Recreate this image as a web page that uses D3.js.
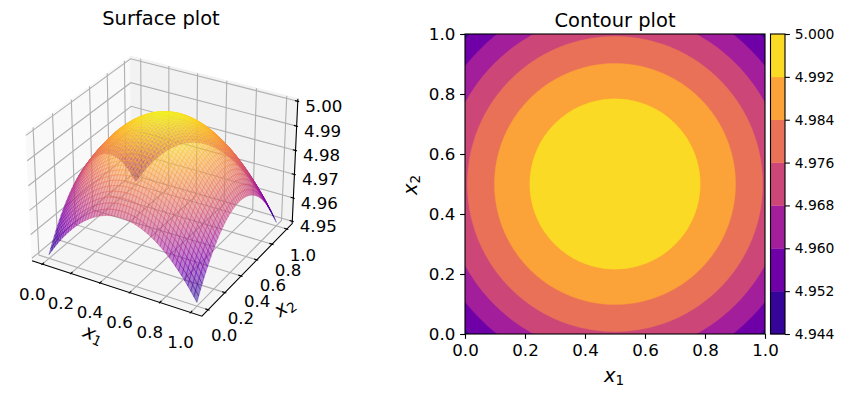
<!DOCTYPE html>
<html><head><meta charset="utf-8">
<script src="https://cdn.jsdelivr.net/npm/d3@7"></script>
<style>html,body{margin:0;background:#fff}svg{display:block}text{font-family:"DejaVu Sans";fill:#000}</style>
</head><body><div id="c"></div>
<script>
// Height lost from the crown along one axis, estimated from the contour radii and corner tips in the reference (51 samples, 0..1).
const crownDrop = [.02475,.02281,.02095,.01917,.01746,.01584,.01430,.01283,.01144,.01014,.00891,.00776,.00669,.00570,.00479,.00396,.00321,.00253,.00194,.00143,.00099,.00063,.00036,.00016,.00004,0,
 .00004,.00016,.00036,.00063,.00099,.00143,.00194,.00253,.00321,.00396,.00479,.00570,.00669,.00776,.00891,.01014,.01144,.01283,.01430,.01584,.01746,.01917,.02095,.02281,.02475];
const crown = 5.0;
const contourLevels = [4.944,4.952,4.960,4.968,4.976,4.984,4.992,5.000];
const unitTicks = [0,.2,.4,.6,.8,1];
const zTicks = [4.95,4.96,4.97,4.98,4.99,5.00];
const xLim = [-.05,1.05], yLim = [-.05,1.05], zLim = [4.95,5.0];

const W=843,H=396;
const svg=d3.select("#c").append("svg").attr("width",W).attr("height",H);
const n=crownDrop.length;
const grid=crownDrop.map(dy=>crownDrop.map(dx=>crown-dx-dy)); // grid[row y][col x]
const sample=i=>i/(n-1);
const zValues=grid.flat();
const zExtent=d3.extent(zValues);

/* ---------- 3D surface ---------- */
const el=30*Math.PI/180, az=-60*Math.PI/180, dist=10;
const boxK=1.8294640721620434/Math.hypot(4,4,3);
const box=[4*boxK,4*boxK,3*boxK];
const Rc=box.map(b=>b/2);
const wAxis=[Math.cos(el)*Math.cos(az),Math.cos(el)*Math.sin(az),Math.sin(el)];
const eye=Rc.map((r,i)=>r+dist*wAxis[i]);
const uAxis=[-wAxis[1],wAxis[0],0].map(v=>v/Math.hypot(wAxis[0],wAxis[1]));
const vAxis=[wAxis[1]*uAxis[2]-wAxis[2]*uAxis[1],wAxis[2]*uAxis[0]-wAxis[0]*uAxis[2],wAxis[0]*uAxis[1]-wAxis[1]*uAxis[0]];
const nx=d3.scaleLinear().domain(xLim).range([0,1]);
const ny=d3.scaleLinear().domain(yLim).range([0,1]);
const nz=d3.scaleLinear().domain(zLim).range([0,1]);
const dot=(a,b)=>a[0]*b[0]+a[1]*b[1]+a[2]*b[2];
const S=1635, cx=164.5, cy=180;
const sx=d3.scaleLinear().domain([-.1,.1]).range([cx-.1*S,cx+.1*S]);
const sy=d3.scaleLinear().domain([-.1,.1]).range([cy+.1*S,cy-.1*S]);
function projN(a,b,c){
  const d=[a*box[0]-eye[0],b*box[1]-eye[1],c*box[2]-eye[2]];
  const zv=-dot(d,wAxis);
  return {x:sx(dot(d,uAxis)/zv),y:sy(dot(d,vAxis)/zv),depth:zv};
}
const proj=(x,y,z)=>projN(nx(x),ny(y),nz(z));
const E0=-1/48,E1=1+1/48;
const line=pts=>"M"+pts.map(p=>p.x.toFixed(2)+","+p.y.toFixed(2)).join("L");
const g3=svg.append("g");
const panes=[
 {c:"#f9f9f9",p:[[E0,E0,E0],[E0,E1,E0],[E0,E1,E1],[E0,E0,E1]]},
 {c:"#f2f2f2",p:[[E0,E1,E0],[E1,E1,E0],[E1,E1,E1],[E0,E1,E1]]},
 {c:"#f5f5f5",p:[[E0,E0,E0],[E1,E0,E0],[E1,E1,E0],[E0,E1,E0]]}];
g3.selectAll("path.pane").data(panes).join("path").attr("class","pane")
  .attr("d",d=>line(d.p.map(q=>projN(...q)))+"Z").attr("fill",d=>d.c).attr("stroke",d=>d.c).attr("stroke-width",1);
const gridStyle=s=>s.attr("fill","none").attr("stroke","#b0b0b0").attr("stroke-width",1.11);
g3.selectAll("path.gx").data(unitTicks).join("path").attr("class","gx").call(gridStyle)
  .attr("d",t=>line([projN(nx(t),E0,E0),projN(nx(t),E1,E0),projN(nx(t),E1,E1)]));
g3.selectAll("path.gy").data(unitTicks).join("path").attr("class","gy").call(gridStyle)
  .attr("d",t=>line([projN(E1,ny(t),E0),projN(E0,ny(t),E0),projN(E0,ny(t),E1)]));
g3.selectAll("path.gz").data(zTicks).join("path").attr("class","gz").call(gridStyle)
  .attr("d",t=>line([projN(E1,E1,nz(t)),projN(E0,E1,nz(t)),projN(E0,E0,nz(t))]));
const axisStyle=s=>s.attr("fill","none").attr("stroke","#000").attr("stroke-width",1.11);
g3.append("path").call(axisStyle).attr("d",line([projN(E0,E0,E0),projN(E1,E0,E0),projN(E1,E1,E0),projN(E1,E1,E1)]));
const tOut=.1/12, tIn=.2/12;
g3.selectAll("path.tx").data(unitTicks).join("path").attr("class","tx").call(axisStyle)
  .attr("d",t=>line([projN(nx(t),E0-tOut,E0),projN(nx(t),E0+tIn,E0)]));
g3.selectAll("path.ty").data(unitTicks).join("path").attr("class","ty").call(axisStyle)
  .attr("d",t=>line([projN(E1+tOut,ny(t),E0),projN(E1-tIn,ny(t),E0)]));
g3.selectAll("path.tz").data(zTicks).join("path").attr("class","tz").call(axisStyle)
  .attr("d",t=>line([projN(E1+tOut,E1,nz(t)),projN(E1-tIn,E1,nz(t))]));
const tickFont=16.67;
function tickLabels(cls,data,pos,dx,dy,fmt){
  g3.selectAll("text."+cls).data(data).join("text").attr("class",cls)
   .attr("x",t=>pos(t).x+dx).attr("y",t=>pos(t).y+dy).attr("text-anchor","middle").attr("dominant-baseline","central")
   .attr("font-size",tickFont).text(fmt);
}
tickLabels("lx",unitTicks,t=>projN(nx(t),E0,E0),-10,30,d3.format(".1f"));
tickLabels("ly",unitTicks,t=>projN(E1,ny(t),E0),16,26,d3.format(".1f"));
tickLabels("lz",zTicks,t=>projN(E1,E1,nz(t)),26,5,d3.format(".2f"));

const cells=[];
for(let j=0;j<n-1;j++)for(let i=0;i<n-1;i++){
  const q=[[i,j],[i+1,j],[i+1,j+1],[i,j+1]];
  const pts=q.map(([a,b])=>proj(sample(a),sample(b),grid[b][a]));
  cells.push({pts,z:d3.mean(q,([a,b])=>grid[b][a]),d:d3.mean(pts,p=>p.depth)});
}
cells.sort((a,b)=>d3.descending(a.d,b.d));
const surfColor=d3.scaleSequential(d3.interpolatePlasma).domain(zExtent);
g3.append("g").selectAll("path").data(cells).join("path")
  .attr("d",d=>line(d.pts)+"Z")
  .attr("fill",d=>surfColor(d.z)).attr("fill-opacity",.5)
  .attr("stroke",d=>surfColor(d.z)).attr("stroke-opacity",.5).attr("stroke-width",.7);

function mathLabel(g,x,y,rot,sub){
  const t=g.append("text").attr("transform",`translate(${x},${y}) rotate(${rot})`)
    .attr("text-anchor","middle").attr("font-size",19.44);
  t.append("tspan").attr("font-style","italic").text("x");
  t.append("tspan").attr("font-size",13.6).attr("dy",3).text(sub);
}
mathLabel(g3,91,340,24,"1");
mathLabel(g3,288,312,-35,"2");
svg.append("text").attr("x",161).attr("y",25).attr("text-anchor","middle").attr("font-size",19.44).text("Surface plot");

/* ---------- contour ---------- */
const L=465,R=765,T=34,B=334;
const px=d3.scaleLinear().domain([0,1]).range([L,R]);
const py=d3.scaleLinear().domain([0,1]).range([B,T]);
svg.append("clipPath").attr("id","cl").append("rect").attr("x",L).attr("y",T).attr("width",R-L).attr("height",B-T);
const bandColor=i=>d3.interpolatePlasma((i+.5)/(contourLevels.length-1));
const cg=svg.append("g").attr("clip-path","url(#cl)");
const geo=d3.geoPath(d3.geoTransform({point(x,y){this.stream.point(px((x-.5)/(n-1)),py((y-.5)/(n-1)));}}));
const bands=d3.contours().size([n,n]).thresholds(contourLevels.slice(0,-1))(zValues);
cg.append("rect").attr("x",L).attr("y",T).attr("width",R-L).attr("height",B-T).attr("fill",bandColor(0));
cg.selectAll("path").data(bands).join("path").attr("d",d=>geo(d)).attr("fill",(d,i)=>bandColor(i)).attr("stroke",(d,i)=>bandColor(i)).attr("stroke-width",.3);
function styleAxis(g,size){
  g.selectAll("text").attr("font-size",size).attr("font-family","DejaVu Sans").attr("fill","#000");
  g.selectAll("line").attr("stroke-width",1.11).attr("stroke","#000");
  g.select(".domain").remove();
}
svg.append("g").attr("transform",`translate(0,${B})`).call(d3.axisBottom(px).tickValues(unitTicks).tickFormat(d3.format(".1f")).tickSize(4.86).tickPadding(4.86)).call(styleAxis,16.67);
svg.append("g").attr("transform",`translate(${L},0)`).call(d3.axisLeft(py).tickValues(unitTicks).tickFormat(d3.format(".1f")).tickSize(4.86).tickPadding(4.86)).call(styleAxis,16.67);
svg.append("rect").attr("x",L).attr("y",T).attr("width",R-L).attr("height",B-T).attr("fill","none").attr("stroke","#000").attr("stroke-width",1.11);
svg.append("text").attr("x",615).attr("y",27).attr("text-anchor","middle").attr("font-size",19.44).text("Contour plot");
const xl=svg.append("g");
mathLabel(xl,614,382,0,"1");
mathLabel(xl,417,185,-90,"2");

/* ---------- colour bar ---------- */
const cbL=770.5,cbR=785;
const cz=d3.scaleLinear().domain([4.944,5.0]).range([B,T]);
svg.append("g").selectAll("rect").data(d3.pairs(contourLevels)).join("rect")
  .attr("x",cbL).attr("width",cbR-cbL).attr("y",d=>cz(d[1])).attr("height",d=>cz(d[0])-cz(d[1])+.3)
  .attr("fill",(d,i)=>bandColor(i));
svg.append("rect").attr("x",cbL).attr("y",T).attr("width",cbR-cbL).attr("height",B-T).attr("fill","none").attr("stroke","#000").attr("stroke-width",1.11);
svg.append("g").attr("transform",`translate(${cbR},0)`).call(d3.axisRight(cz).tickValues(contourLevels).tickFormat(d3.format(".3f")).tickSize(4.86).tickPadding(4.86)).call(styleAxis,13.89);
</script></body></html>
